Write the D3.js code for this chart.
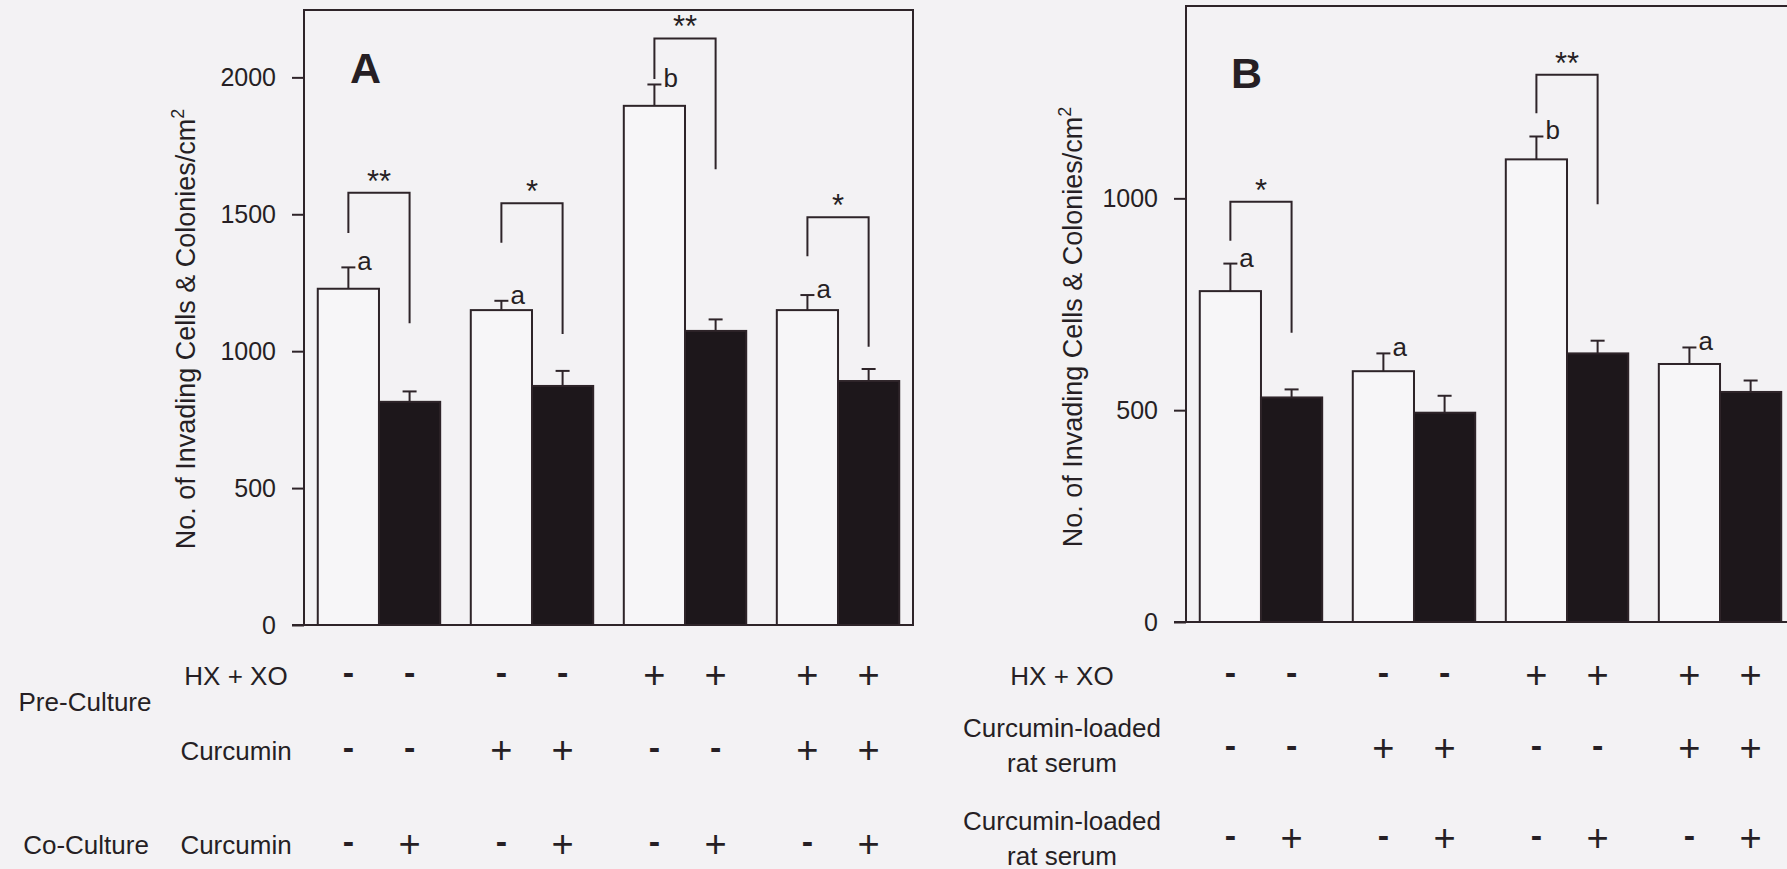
<!DOCTYPE html>
<html>
<head>
<meta charset="utf-8">
<script src="https://cdn.jsdelivr.net/npm/d3@7"></script>
<style>
  html, body { margin: 0; padding: 0; background: #f3f2f4; overflow: hidden; }
  svg { display: block; }
  text { font-family: "Liberation Sans", Arial, Helvetica, sans-serif; fill: #261f24; }
</style>
</head>
<body>
<svg id="chart" width="1787" height="869"></svg>
<script>
// ---------------- data ----------------
const groups = ["G1", "G2", "G3", "G4"];
const series = ["white", "black"];

// Panel A
const whiteA = [1228, 1150, 1896, 1150];
const whiteSemA = [78, 34, 78, 55];
const blackA = [815, 873, 1074, 891];
const blackSemA = [38, 55, 42, 44];
const lettersA = ["a", "a", "b", "a"];
const starsA = ["**", "*", "**", "*"];
const bracketTopA = [1579, 1540, 2142, 1489];
const bracketLeftEndA = [1432, 1396, 1994, 1347];
const bracketRightEndA = [1102, 1063, 1664, 1016];
const ticksA = [0, 500, 1000, 1500, 2000];
const yMaxA = 2246;
const rowHxA = ["-", "-", "-", "-", "+", "+", "+", "+"];
const rowPreCurA = ["-", "-", "+", "+", "-", "-", "+", "+"];
const rowCoCurA = ["-", "+", "-", "+", "-", "+", "-", "+"];

// Panel B
const whiteB = [781, 592, 1092, 609];
const whiteSemB = [65, 42, 54, 39];
const blackB = [530, 494, 634, 543];
const blackSemB = [19, 40, 30, 27];
const lettersB = ["a", "a", "b", "a"];
const starsB = ["*", null, "**", null];
const bracketTopB = [992, null, 1292, null];
const bracketLeftEndB = [900, null, 1201, null];
const bracketRightEndB = [683, null, 986, null];
const ticksB = [0, 500, 1000];
const yMaxB = 1454;
const rowHxB = ["-", "-", "-", "-", "+", "+", "+", "+"];
const rowPreSerumB = ["-", "-", "+", "+", "-", "-", "+", "+"];
const rowCoSerumB = ["-", "+", "-", "+", "-", "+", "-", "+"];

const yTitle = "No. of Invading Cells & Colonies/cm";

// ---------------- styles ----------------
const INK = "#2e2429";
const BAR_BLACK = "#1d171b";
const BAR_WHITE = "#f7f6f8";
const SW = 2;

const svg = d3.select("#chart");

function drawPanel(cfg) {
  const g = svg.append("g");
  const x0 = d3.scaleBand().domain(groups).range([cfg.left, cfg.right])
    .paddingInner(0.2).paddingOuter(0.09);
  const x1 = d3.scaleBand().domain(series).range([0, x0.bandwidth()]);
  const y = d3.scaleLinear().domain([0, cfg.yMax]).range([cfg.bottom, cfg.top]);
  const cx = (i, s) => x0(groups[i]) + x1(s) + x1.bandwidth() / 2;

  // frame
  g.append("rect")
    .attr("x", cfg.left).attr("y", cfg.top)
    .attr("width", cfg.right - cfg.left).attr("height", cfg.bottom - cfg.top)
    .attr("fill", "none").attr("stroke", INK).attr("stroke-width", SW);

  // bars
  const recs = [];
  groups.forEach((gname, i) => {
    recs.push({ i, s: "white", v: cfg.white[i], e: cfg.whiteSem[i] });
    recs.push({ i, s: "black", v: cfg.black[i], e: cfg.blackSem[i] });
  });
  g.selectAll("rect.bar").data(recs).join("rect")
    .attr("class", "bar")
    .attr("x", d => x0(groups[d.i]) + x1(d.s))
    .attr("y", d => y(d.v))
    .attr("width", x1.bandwidth())
    .attr("height", d => y(0) - y(d.v))
    .attr("fill", d => d.s === "white" ? BAR_WHITE : BAR_BLACK)
    .attr("stroke", INK).attr("stroke-width", SW);

  // error bars (upper only)
  const capHalf = 7;
  recs.forEach(d => {
    const xc = cx(d.i, d.s);
    g.append("line").attr("x1", xc).attr("x2", xc)
      .attr("y1", y(d.v)).attr("y2", y(d.v + d.e))
      .attr("stroke", INK).attr("stroke-width", SW);
    g.append("line").attr("x1", xc - capHalf).attr("x2", xc + capHalf)
      .attr("y1", y(d.v + d.e)).attr("y2", y(d.v + d.e))
      .attr("stroke", INK).attr("stroke-width", SW);
  });

  // letters on white bars
  groups.forEach((gname, i) => {
    const xc = cx(i, "white");
    g.append("text")
      .attr("x", xc + capHalf + 2)
      .attr("y", y(cfg.white[i] + cfg.whiteSem[i]) + 3)
      .attr("font-size", 26)
      .text(cfg.letters[i]);
  });

  // significance brackets
  groups.forEach((gname, i) => {
    if (cfg.bTop[i] == null) return;
    const xl = cx(i, "white"), xr = cx(i, "black");
    const yt = y(cfg.bTop[i]);
    g.append("path")
      .attr("d", `M${xl},${y(cfg.bLeft[i])}V${yt}H${xr}V${y(cfg.bRight[i])}`)
      .attr("fill", "none").attr("stroke", INK).attr("stroke-width", SW);
    g.append("text")
      .attr("x", (xl + xr) / 2).attr("y", yt - 1)
      .attr("text-anchor", "middle").attr("font-size", 31)
      .text(cfg.stars[i]);
  });

  // y axis
  const axis = d3.axisLeft(y).tickValues(cfg.ticks).tickSize(12).tickPadding(16)
    .tickFormat(d3.format("d"));
  const ag = g.append("g").attr("transform", `translate(${cfg.left},0)`).call(axis);
  ag.select(".domain").remove();
  ag.selectAll("line").attr("stroke", INK).attr("stroke-width", SW);
  ag.selectAll("text").attr("font-size", 25)
    .style("font-family", '"Liberation Sans", Arial, sans-serif').attr("fill", "#261f24");
  // bottom axis line extends to tick end
  g.append("line").attr("x1", cfg.left - 12).attr("x2", cfg.right)
    .attr("y1", cfg.bottom).attr("y2", cfg.bottom)
    .attr("stroke", INK).attr("stroke-width", SW);

  // y title
  const t = g.append("text")
    .attr("transform", `translate(${cfg.titleX},${cfg.titleY}) rotate(-90)`)
    .attr("text-anchor", "middle").attr("font-size", 27);
  t.append("tspan").text(yTitle);
  t.append("tspan").attr("font-size", 18).attr("dy", -11).text("2");

  // panel letter
  g.append("text").attr("x", cfg.letterX).attr("y", cfg.letterY)
    .attr("font-size", 43).attr("font-weight", "bold").text(cfg.panel);

  // condition rows
  cfg.rows.forEach(row => {
    row.signs.forEach((s, k) => {
      const gi = Math.floor(k / 2), se = series[k % 2];
      const plus = s === "+";
      g.append("text")
        .attr("x", cx(gi, se))
        .attr("y", row.cy + (plus ? 13 : 8.5))
        .attr("text-anchor", "middle")
        .attr("font-size", plus ? 38 : 34)
        .attr("font-weight", plus ? "normal" : "bold")
        .text(s);
    });
    row.label.forEach((ln, j) => {
      g.append("text").attr("x", cfg.rowLabelX)
        .attr("y", row.labelCy[j] + 9.5)
        .attr("text-anchor", "middle").attr("font-size", 26)
        .text(ln);
    });
  });
  return { x0, x1, y };
}

drawPanel({
  panel: "A", left: 304, right: 913, top: 10, bottom: 625, yMax: yMaxA,
  white: whiteA, whiteSem: whiteSemA, black: blackA, blackSem: blackSemA,
  letters: lettersA, stars: starsA,
  bTop: bracketTopA, bLeft: bracketLeftEndA, bRight: bracketRightEndA,
  ticks: ticksA, titleX: 195, titleY: 329, letterX: 350, letterY: 83,
  rowLabelX: 236,
  rows: [
    { signs: rowHxA, cy: 675, label: ["HX + XO"], labelCy: [675] },
    { signs: rowPreCurA, cy: 750, label: ["Curcumin"], labelCy: [750] },
    { signs: rowCoCurA, cy: 844, label: ["Curcumin"], labelCy: [844] }
  ]
});

drawPanel({
  panel: "B", left: 1186, right: 1795, top: 6, bottom: 622, yMax: yMaxB,
  white: whiteB, whiteSem: whiteSemB, black: blackB, blackSem: blackSemB,
  letters: lettersB, stars: starsB,
  bTop: bracketTopB, bLeft: bracketLeftEndB, bRight: bracketRightEndB,
  ticks: ticksB, titleX: 1082, titleY: 327, letterX: 1231, letterY: 88,
  rowLabelX: 1062,
  rows: [
    { signs: rowHxB, cy: 675, label: ["HX + XO"], labelCy: [675] },
    { signs: rowPreSerumB, cy: 748, label: ["Curcumin-loaded", "rat serum"], labelCy: [727, 762] },
    { signs: rowCoSerumB, cy: 838, label: ["Curcumin-loaded", "rat serum"], labelCy: [820, 855] }
  ]
});

// group labels on the far left of panel A
svg.append("text").attr("x", 85).attr("y", 701 + 9.5)
  .attr("text-anchor", "middle").attr("font-size", 26).text("Pre-Culture");
svg.append("text").attr("x", 86).attr("y", 844 + 9.5)
  .attr("text-anchor", "middle").attr("font-size", 26).text("Co-Culture");
</script>
</body>
</html>
